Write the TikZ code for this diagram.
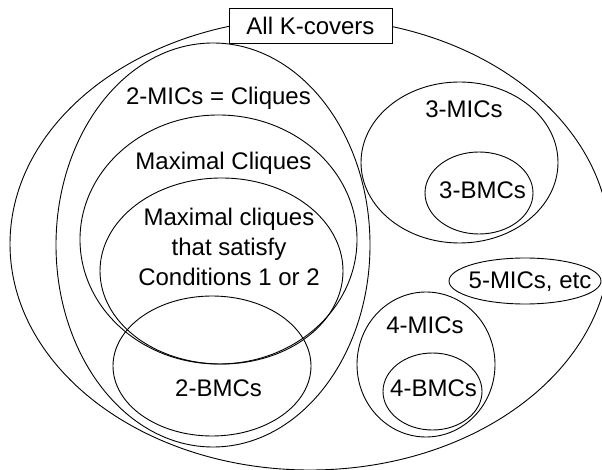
\documentclass[tikz,border=0pt]{standalone}
\usepackage{fontspec}
\setmainfont{Liberation Sans}
\begin{document}
\begin{tikzpicture}[x=1pt,y=-1pt,
  setline/.style={draw=black, line width=0.9pt},
  lbl/.style={font=\fontsize{24}{30}\selectfont, inner sep=0pt, align=center, anchor=base}]
\useasboundingbox (0,0) rectangle (602,470);
\clip (0,0) rectangle (602,470);
\fill[white] (0,0) rectangle (602,470);
% outer set
\draw[setline] (310,244) ellipse [x radius=300pt, y radius=226pt];
% 2-MICs
\draw[setline] (213,245) ellipse [x radius=157pt, y radius=202pt];
% Maximal cliques
\draw[setline] (218.5,239.5) ellipse [x radius=138.5pt, y radius=124.5pt];
% Maximal cliques that satisfy
\draw[setline] (221.5,271) ellipse [x radius=121.5pt, y radius=93pt];
% 2-BMCs
\draw[setline] (212,366) ellipse [x radius=99pt, y radius=70pt];
% 3-MICs and 3-BMCs
\draw[setline] (459.5,162.5) ellipse [x radius=98.5pt, y radius=80.5pt];
\draw[setline] (479,193) ellipse [x radius=54pt, y radius=41pt];
% 5-MICs
\draw[setline] (525,281) ellipse [x radius=76pt, y radius=23pt];
% 4-MICs and 4-BMCs
\draw[setline] (426,364.5) ellipse [x radius=69pt, y radius=72.5pt];
\draw[setline] (432.5,391.5) ellipse [x radius=49.5pt, y radius=38.5pt];
% title box
\node[setline, fill=white, minimum width=163pt, minimum height=35pt, inner sep=0pt,
      font=\fontsize{24}{30}\selectfont] (all) at (310.5,25.5) {All K-covers};
% labels
\node[lbl] (mic2) at (218.5,105) {2-MICs = Cliques};
\node[lbl] (maxcl) at (223.5,170) {Maximal Cliques};
\node[lbl, anchor=center] (sat) at (229,247.4) {Maximal cliques\\that satisfy\\Conditions 1 or 2};
\node[lbl] (bmc2) at (218.5,396) {2-BMCs};
\node[lbl] (mic3) at (464,118) {3-MICs};
\node[lbl] (bmc3) at (482.5,199) {3-BMCs};
\node[lbl] (mic5) at (530,288) {5-MICs, etc};
\node[lbl] (mic4) at (425,333) {4-MICs};
\node[lbl] (bmc4) at (433.5,396) {4-BMCs};
\end{tikzpicture}
\end{document}
